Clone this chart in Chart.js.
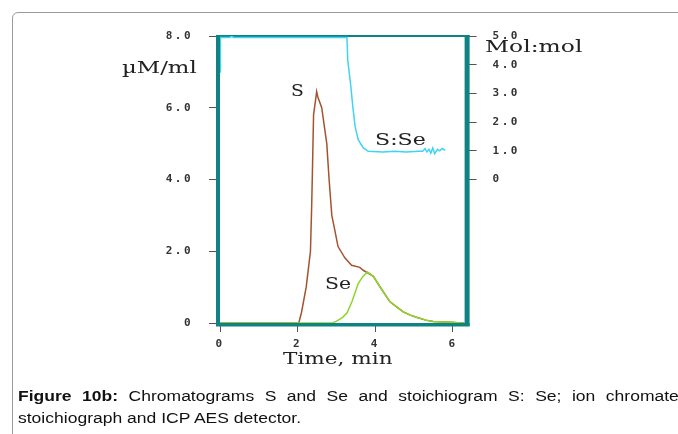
<!DOCTYPE html>
<html>
<head>
<meta charset="utf-8">
<script src="https://cdn.jsdelivr.net/npm/chart.js@4"></script>
<style>
  html, body { margin: 0; padding: 0; background: #fff; }
  body { width: 678px; height: 434px; position: relative; overflow: hidden; }
  #box { position: absolute; left: 12px; top: 12px; width: 720px; height: 500px;
         border: 1px solid #9a9a9a; border-radius: 6px; }
  #chart { position: absolute; left: 0; top: 0; }
  .lbl { position: absolute; white-space: nowrap; font-family: "DejaVu Serif", serif;
         font-size: 17px; color: #222; line-height: 1; transform-origin: left center; }
  .cap { position: absolute; left: 18px; white-space: nowrap; font-family: "Liberation Sans", Arial, sans-serif;
         font-size: 15.5px; color: #111; line-height: 1; transform: scaleX(1.13); transform-origin: left center; }
</style>
</head>
<body>
<div id="box"></div>
<canvas id="chart" width="678" height="434"></canvas>

<div class="lbl" style="left:122px; top:59px; transform:scaleX(1.34);">µM/ml</div>
<div class="lbl" style="left:485px; top:38px; transform:scaleX(1.38);">Mol:mol</div>
<div class="lbl" style="left:291px; top:82px; transform:scaleX(1.1);">S</div>
<div class="lbl" style="left:375px; top:131px; transform:scaleX(1.3);">S:Se</div>
<div class="lbl" style="left:325px; top:275px; transform:scaleX(1.2);">Se</div>
<div class="lbl" style="left:283px; top:350px; transform:scaleX(1.27);">Time, min</div>

<div class="cap" style="top:388px; word-spacing:5px;"><b>Figure 10b:</b> Chromatograms S and Se and stoichiogram S: Se; ion chromate</div>
<div class="cap" style="top:410px;">stoichiograph and ICP AES detector.</div>

<script>
'use strict'

//datos - cromatograma S (tiempo en min, µM/ml)
const sTimes  = [ 0, 2.03, 2.1, 2.22, 2.33, 2.36, 2.38, 2.41, 2.49, 2.52, 2.62, 2.75, 2.81, 2.88, 2.94, 3.04, 3.22, 3.39, 3.6, 3.69, 3.8, 3.95, 4.12, 4.28, 4.38, 4.55, 4.72, 4.9, 5.06, 5.3, 5.49, 5.75, 5.97, 6.2, 6.3 ];
const sValues = [ 0, 0, 0.3, 1.0, 2.0, 3.2, 4.2, 5.8, 6.45, 6.3, 6.0, 5.0, 4.0, 3.0, 2.68, 2.13, 1.81, 1.61, 1.55, 1.47, 1.4, 1.3, 1.01, 0.75, 0.59, 0.45, 0.31, 0.22, 0.16, 0.08, 0.04, 0.03, 0.02, 0, 0 ];

//datos - cromatograma Se
const seTimes  = [ 0, 2.9, 3.0, 3.15, 3.27, 3.4, 3.56, 3.68, 3.8, 3.95, 4.12, 4.28, 4.38, 4.55, 4.72, 4.9, 5.06, 5.3, 5.49, 5.75, 5.97, 6.2, 6.3 ];
const seValues = [ 0, 0, 0.05, 0.15, 0.28, 0.6, 1.1, 1.3, 1.42, 1.3, 1.01, 0.75, 0.59, 0.45, 0.31, 0.22, 0.16, 0.08, 0.04, 0.03, 0.02, 0, 0 ];

//datos - estequiograma S:Se (mol:mol)
const ratioTimes  = [ 0, 0.01, 0.25, 0.3, 0.35, 1.5, 3.27, 3.29, 3.37, 3.42, 3.48, 3.56, 3.69, 3.82, 4.2, 4.5, 4.8, 5.1, 5.22, 5.28, 5.33, 5.38, 5.43, 5.48, 5.53, 5.6, 5.66, 5.72, 5.8 ];
const ratioValues = [ 3.75, 4.95, 4.95, 4.99, 4.95, 4.95, 4.95, 4.17, 3.24, 2.55, 1.85, 1.39, 1.1, 0.98, 0.96, 0.98, 0.96, 0.98, 0.98, 1.08, 0.96, 1.05, 0.92, 1.1, 0.9, 1.05, 1.0, 1.08, 1.02 ];

//etiquetas de los ejes
const xTicks      = [ 0, 2, 4, 6 ];
const leftTicks   = [ 0, 2, 4, 6, 8 ];
const rightTicks  = [ 0, 1, 2, 3, 4, 5 ];

function toPoints( xs, ys )
{
  return xs.map( ( x, i ) => ( { x: x, y: ys[ i ] } ) );
}

function fixedTicks( list )
{
  return scale => { scale.ticks = list.map( v => ( { value: v } ) ); };
}

function tickLabel( v )
{
  return v === 0 ? '0' : v.toFixed( 1 );
}

//marco verde azulado alrededor del area
const framePlugin =
{
  id: 'frame',
  beforeDraw( chart )
  {
    chart.ctx.letterSpacing = '2.5px';
  },
  beforeDatasetsDraw( chart )
  {
    const c = chart.ctx;
    const a = chart.chartArea;
    c.save( );
    c.fillStyle = '#0f8383';
    c.fillRect( a.left - 4, a.top - 1, 4, a.bottom - a.top + 4 );
    c.fillRect( a.right, a.top - 1, 5, a.bottom - a.top + 4 );
    c.fillRect( a.left - 4, a.top - 1, a.right - a.left + 9, 2 );
    c.fillRect( a.left - 4, a.bottom, a.right - a.left + 9, 3.5 );
    c.restore( );
  }
};

const tickFont = { family: 'DejaVu Sans Mono', size: 11, weight: 'bold' };

new Chart( document.getElementById( 'chart' ),
{
  type: 'line',
  data:
  {
    datasets:
    [
      { data: toPoints( seTimes, seValues ), yAxisID: 'y', borderColor: '#8cd62a', borderWidth: 1.5 },
      { data: toPoints( sTimes, sValues ), yAxisID: 'y', borderColor: '#a4532f', borderWidth: 1.5 },
      { data: toPoints( ratioTimes, ratioValues ), yAxisID: 'y2', borderColor: '#3fd4f4', borderWidth: 1.5 }
    ]
  },
  options:
  {
    responsive: false,
    animation: false,
    layout: { padding: { top: 36, right: 0, bottom: 0, left: 0 } },
    plugins: { legend: { display: false }, tooltip: { enabled: false } },
    elements: { point: { radius: 0 }, line: { tension: 0 } },
    scales:
    {
      x:
      {
        type: 'linear', min: 0, max: 6.3,
        afterBuildTicks: fixedTicks( xTicks ),
        afterFit: s => { s.height = 111; },
        border: { display: false },
        grid: { drawOnChartArea: false, tickLength: 9, color: '#555' },
        ticks: { font: tickFont, color: '#333', padding: 6, maxRotation: 0, callback: v => String( v ) }
      },
      y:
      {
        position: 'left', min: 0, max: 8,
        afterBuildTicks: fixedTicks( leftTicks ),
        afterFit: s => { s.width = 220; },
        border: { display: false },
        grid: { drawOnChartArea: false, tickLength: 11, color: '#555' },
        ticks: { font: tickFont, color: '#333', padding: 16, callback: tickLabel }
      },
      y2:
      {
        position: 'right', min: -5, max: 5,
        afterBuildTicks: fixedTicks( rightTicks ),
        afterFit: s => { s.width = 213.4; },
        border: { display: false },
        grid: { drawOnChartArea: false, tickLength: 12, color: '#555' },
        ticks: { font: tickFont, color: '#333', padding: 16, callback: tickLabel }
      }
    }
  },
  plugins: [ framePlugin ]
});
</script>
</body>
</html>
